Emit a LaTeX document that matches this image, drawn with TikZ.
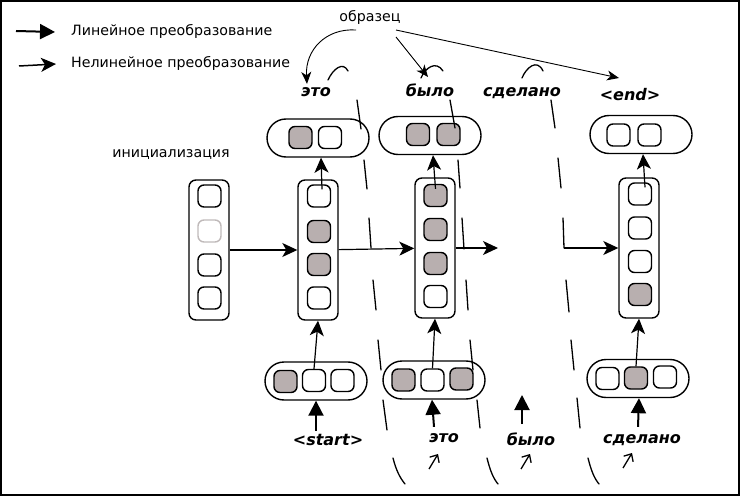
\documentclass[tikz,border=0pt]{standalone}
\usepackage{fontspec}
\setmainfont{DejaVu Sans}[BoldFont={DejaVu Sans Bold},ItalicFont={DejaVu Sans Oblique},BoldItalicFont={DejaVu Sans Bold Oblique}]
\usetikzlibrary{arrows.meta,calc}
\definecolor{cellgray}{RGB}{184,175,175}
\definecolor{faint}{RGB}{192,186,186}
\begin{document}
\begin{tikzpicture}[x=1pt,y=-1pt,
  cellbox/.style={draw,line width=1.4pt,rounded corners=6pt,minimum width=23pt,minimum height=22pt,inner sep=0pt,fill=white},
  gcell/.style={cellbox,fill=cellgray},
  tallbox/.style={draw,line width=1.4pt,rounded corners=7pt,minimum width=40pt,minimum height=140pt,inner sep=0pt},
  capsule/.style={draw,line width=1.4pt,rounded corners=19pt,minimum width=102pt,minimum height=38pt,inner sep=0pt},
  nl/.style={line width=1.2pt,-{Stealth[length=15pt,width=14pt,inset=4pt]}},
  thin/.style={line width=0.9pt,-{Stealth[length=12pt,width=10pt,inset=3.5pt]}},
  lin/.style={line width=2pt,-{Triangle[length=15pt,width=15pt]}},
  copyline/.style={line width=1.3pt,line cap=round},
  feed/.style={line width=1.3pt,-{Straight Barb[length=6pt,width=11pt]}},
  word/.style={font=\fontsize{16}{16}\selectfont\bfseries\itshape,inner sep=0pt,anchor=base},
  lbl/.style={font=\fontsize{14.2}{14.2}\selectfont,inner sep=0pt},
]
\useasboundingbox (0,0) rectangle (741,497);
\draw[line width=2pt] (1,1) rectangle (739,495);

% legend
\coordinate (la) at (16,31); \coordinate (lb) at (55,32);
\coordinate (na) at (19,66); \coordinate (nb) at (56,64);
\draw[lin] (la) -- (lb);
\draw[nl,line width=1.5pt] (na) -- (nb);
\node[lbl,anchor=base west] (tl) at (71,36) {Линейное преобразование};
\node[lbl,anchor=base west] (tn) at (71,68) {Нелинейное преобразование};

\node[lbl,anchor=base] (obr) at (370,22) {образец};
\node[lbl,anchor=base] (ini) at (171,158) {инициализация};

% tall boxes
\node[tallbox] (init) at (209,250) {};
\node[cellbox] (i1) at (209.5,196) {};
\node[cellbox,draw=faint] (i2) at (209.5,231) {};
\node[cellbox] (i3) at (209.5,265) {};
\node[cellbox] (i4) at (209.5,298) {};

\node[tallbox] (h1) at (318,250) {};
\node[cellbox] (c11) at (319,196) {};
\node[gcell] (c12) at (319,231.5) {};
\node[gcell] (c13) at (319,264.5) {};
\node[cellbox] (c14) at (319,298) {};

\node[tallbox] (h2) at (435,248) {};
\node[gcell] (c21) at (435.5,195.5) {};
\node[gcell] (c22) at (435.5,229.5) {};
\node[gcell] (c23) at (435.5,263.5) {};
\node[cellbox] (c24) at (435.5,296.5) {};

\node[tallbox] (h4) at (639,248) {};
\node[cellbox] (c41) at (640,194) {};
\node[cellbox] (c42) at (640,228) {};
\node[cellbox] (c43) at (640,261.5) {};
\node[gcell] (c44) at (640,294.5) {};

% top capsules
\node[capsule] (t1) at (318,138) {};
\node[gcell] (t11) at (300.5,137.5) {};
\node[cellbox] (t12) at (330,137.5) {};
\node[capsule] (t2) at (430,135.5) {};
\node[gcell] (t21) at (418,134.5) {};
\node[gcell] (t22) at (448.5,134.5) {};
\node[capsule] (t4) at (641,134.5) {};
\node[cellbox] (t41) at (618.5,135) {};
\node[cellbox] (t42) at (649.5,135) {};

% bottom capsules
\node[capsule] (e1) at (316,381) {};
\node[gcell] (e11) at (285.5,381.5) {};
\node[cellbox] (e12) at (314,380.5) {};
\node[cellbox] (e13) at (342.5,380.5) {};
\node[capsule] (e2) at (434,380) {};
\node[gcell] (e21) at (403.5,380) {};
\node[cellbox] (e22) at (432.5,380) {};
\node[gcell] (e23) at (461.5,379) {};
\node[capsule] (e4) at (638,378.5) {};
\node[cellbox] (e41) at (607.5,378.5) {};
\node[gcell] (e42) at (636,378) {};
\node[cellbox] (e43) at (665,377) {};

% words
\node[word] (wt1) at (316,97) {это};
\node[word] (wt2) at (430,97) {было};
\node[word] (wt3) at (522,97) {сделано};
\node[word] (wt4) at (630,101) {<end>};
\node[word] (wb1) at (328,445) {<start>};
\node[word] (wb2) at (444,442) {это};
\node[word] (wb3) at (531,445) {было};
\node[word] (wb4) at (642,443) {сделано};

% horizontal recurrent arrows
\coordinate (fr) at (498,248);
\coordinate (cj) at (564,248);
\draw[nl] (init) -- (h1);
\draw[nl] (h1) -- (h2);
\draw[nl] (h2.east) -- (fr);
\draw[nl] (cj) -- (h4.west);

% hidden -> output
\draw[nl] ([xshift=3pt,yshift=-5pt]c11.north) -- ([xshift=3pt]t1.south);
\draw[nl] ([xshift=0pt,yshift=-5pt]c21.north) -- ([xshift=3pt]t2.south);
\draw[nl] ([xshift=5pt,yshift=-5pt]c41.north) -- ([xshift=2pt]t4.south);

% embedding -> hidden
\draw[nl] (e12.north) -- (h1.south);
\draw[nl] (e22.north) -- (h2.south);
\draw[nl] (e42.north) -- (h4.south);

% word -> embedding (linear)
\coordinate (f3) at (522,395);
\draw[lin] ([yshift=3pt]wb1.north -| e1.south) -- (e1.south);
\draw[lin] ([yshift=6pt]wb2.north -| e2.south) -- ([xshift=-2pt]e2.south);
\draw[lin] ([yshift=8pt]wb3.north -| f3) -- (f3);
\draw[lin] ([yshift=7pt]wb4.north -| e4.south) -- ([xshift=1pt]e4.south);

% sample arrows
\coordinate (s1) at (356,30);
\coordinate (s2) at (396,37);
\coordinate (s3) at (396,30);
\coordinate (g2) at (428,77);
\coordinate (g3) at (619,78);
\draw[thin] (s1) .. controls (326,28) and (305,50) .. ([xshift=-9pt,yshift=4pt]wt1.north);
\draw[thin] (s2) -- (g2);
\draw[thin] (s3) -- (g3);

% copy-back dashed curves
\draw[copyline]
  (328,80) .. controls (333,69) and (343,61) .. (348,71)
  (357,100) -- (361,129)
  (364,160) -- (367,189)
  (369,218) -- (371,248)
  (373,280) -- (376,310)
  (378,340) -- (381,370)
  (383,400) -- (387,430)
  (393,458) .. controls (396,470) and (400,478) .. (405,484);
\draw[copyline]
  (421,78) .. controls (425,68) and (436,60) .. (443,71)
  (450,100) -- (455,128)
  (458,160) -- (460,188)
  (462,218) -- (464,249)
  (466,280) -- (468,310)
  (470,340) -- (473,370)
  (477,400) -- (480,428)
  (487,458) .. controls (490,470) and (493,478) .. (498,484);
\draw[copyline]
  (522,78) .. controls (526,68) and (537,58) .. (543,71)
  (551,100) -- (555,128)
  (558,158) -- (561,188)
  (563,218) -- (564,248)
  (566,280) -- (569,312)
  (571,340) -- (574,370)
  (577,398) -- (580,428)
  (588,458) .. controls (591,470) and (594,478) .. (599,484);

% feed arrows
\coordinate (fa1) at (429,469); \coordinate (fb1) at (438,454);
\coordinate (fa2) at (521,469); \coordinate (fb2) at (530,454);
\coordinate (fa3) at (623,468); \coordinate (fb3) at (632,453);
\draw[feed] (fa1) -- (fb1);
\draw[feed] (fa2) -- (fb2);
\draw[feed] (fa3) -- (fb3);
\end{tikzpicture}
\end{document}
